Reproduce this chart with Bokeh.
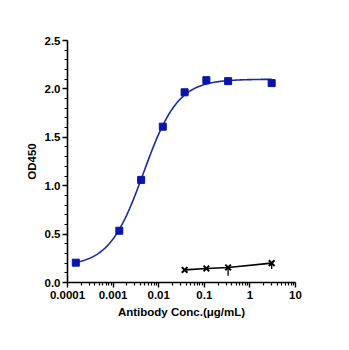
import numpy as np
from bokeh.plotting import figure
from bokeh.models import FixedTicker, Range1d, ColumnDataSource
from bokeh.embed import file_html
from bokeh.resources import INLINE

# Data
conc_blue = [0.000152, 0.00137, 0.00412, 0.0123, 0.037, 0.111, 0.333, 3.0]
od_blue = [0.205, 0.535, 1.06, 1.61, 1.965, 2.09, 2.08, 2.06]
err_blue = [0.0, 0.0, 0.0, 0.0, 0.035, 0.0, 0.0, 0.0]

conc_black = [0.037, 0.111, 0.333, 3.0]
od_black = [0.13, 0.145, 0.155, 0.20]
err_black_low = [0.0, 0.0, 0.085, 0.06]

# 4PL fit parameters for the blue curve
fit_bottom = 0.17
fit_top = 2.10
fit_ec50 = 0.00466
fit_hill = 1.15

x_tick_vals = [0.0001, 0.001, 0.01, 0.1, 1, 10]
x_tick_labels = ["0.0001", "0.001", "0.01", "0.1", "1", "10"]
y_tick_vals = [0.0, 0.5, 1.0, 1.5, 2.0, 2.5]
y_tick_labels = ["0.0", "0.5", "1.0", "1.5", "2.0", "2.5"]

BLUE = "#0a14a8"
LINE_BLUE = "#1b2a9c"
FONT = "Liberation Sans"

p = figure(width=345, height=346, x_axis_type="log", output_backend="svg",
           toolbar_location=None, x_range=Range1d(0.0001, 10), y_range=Range1d(0, 2.5),
           min_border_left=67, min_border_right=50, min_border_top=40, min_border_bottom=64)
p.outline_line_color = None
p.grid.visible = False
p.background_fill_color = "white"
p.border_fill_color = "white"

minor_x = [m * 10.0 ** k for k in range(-4, 1) for m in range(2, 10)]
p.xaxis.ticker = FixedTicker(ticks=x_tick_vals, minor_ticks=minor_x)
p.xaxis.major_label_overrides = {v: l for v, l in zip(x_tick_vals, x_tick_labels)}
minor_y = [round(i * 0.1, 2) for i in range(0, 26)]
p.yaxis.ticker = FixedTicker(ticks=y_tick_vals, minor_ticks=minor_y)
p.yaxis.major_label_overrides = {v: l for v, l in zip(y_tick_vals, y_tick_labels)}

for ax in (p.xaxis[0], p.yaxis[0]):
    ax.axis_line_width = 1.6
    ax.axis_line_color = "black"
    ax.major_tick_line_width = 1.4
    ax.minor_tick_line_width = 1.2
    ax.major_tick_out = 5
    ax.major_tick_in = 0
    ax.minor_tick_out = 3
    ax.minor_tick_in = 0
    ax.major_label_text_font = FONT
    ax.major_label_text_font_style = "bold"
    ax.major_label_text_font_size = "11.5px"
    ax.major_label_text_color = "black"
    ax.axis_label_text_font = FONT
    ax.axis_label_text_font_style = "bold"
    ax.axis_label_text_font_size = "11.5px"
    ax.axis_label_text_color = "black"

p.xaxis.axis_label = "Antibody Conc.(μg/mL)"
p.yaxis.axis_label = "OD450"
p.xaxis.major_label_standoff = 3
p.yaxis.major_label_standoff = 2
p.xaxis.axis_label_standoff = 4
p.yaxis.axis_label_standoff = 4

# fitted curve
xs = np.logspace(np.log10(conc_blue[0]), np.log10(conc_blue[-1]), 300)
ys = fit_bottom + (fit_top - fit_bottom) / (1 + (fit_ec50 / xs) ** fit_hill)
p.line(xs, ys, line_color=LINE_BLUE, line_width=1.6)

# blue error bars
src_b = ColumnDataSource(dict(x=conc_blue, lo=[v - e for v, e in zip(od_blue, err_blue)],
                              hi=[v + e for v, e in zip(od_blue, err_blue)]))
p.segment(x0="x", y0="lo", x1="x", y1="hi", source=src_b, line_color=BLUE, line_width=1.4)
p.scatter(conc_blue, od_blue, marker="square", size=7, fill_color=BLUE, line_color=BLUE)

# black series
src_k = ColumnDataSource(dict(x=conc_black, lo=[v - e for v, e in zip(od_black, err_black_low)],
                              hi=od_black))
p.segment(x0="x", y0="lo", x1="x", y1="hi", source=src_k, line_color="black", line_width=1.3)
p.line(conc_black, od_black, line_color="black", line_width=1.6)
p.scatter(conc_black, od_black, marker="x", size=8, line_color="black", line_width=2)

open("out.html", "w").write(file_html(p, INLINE))
